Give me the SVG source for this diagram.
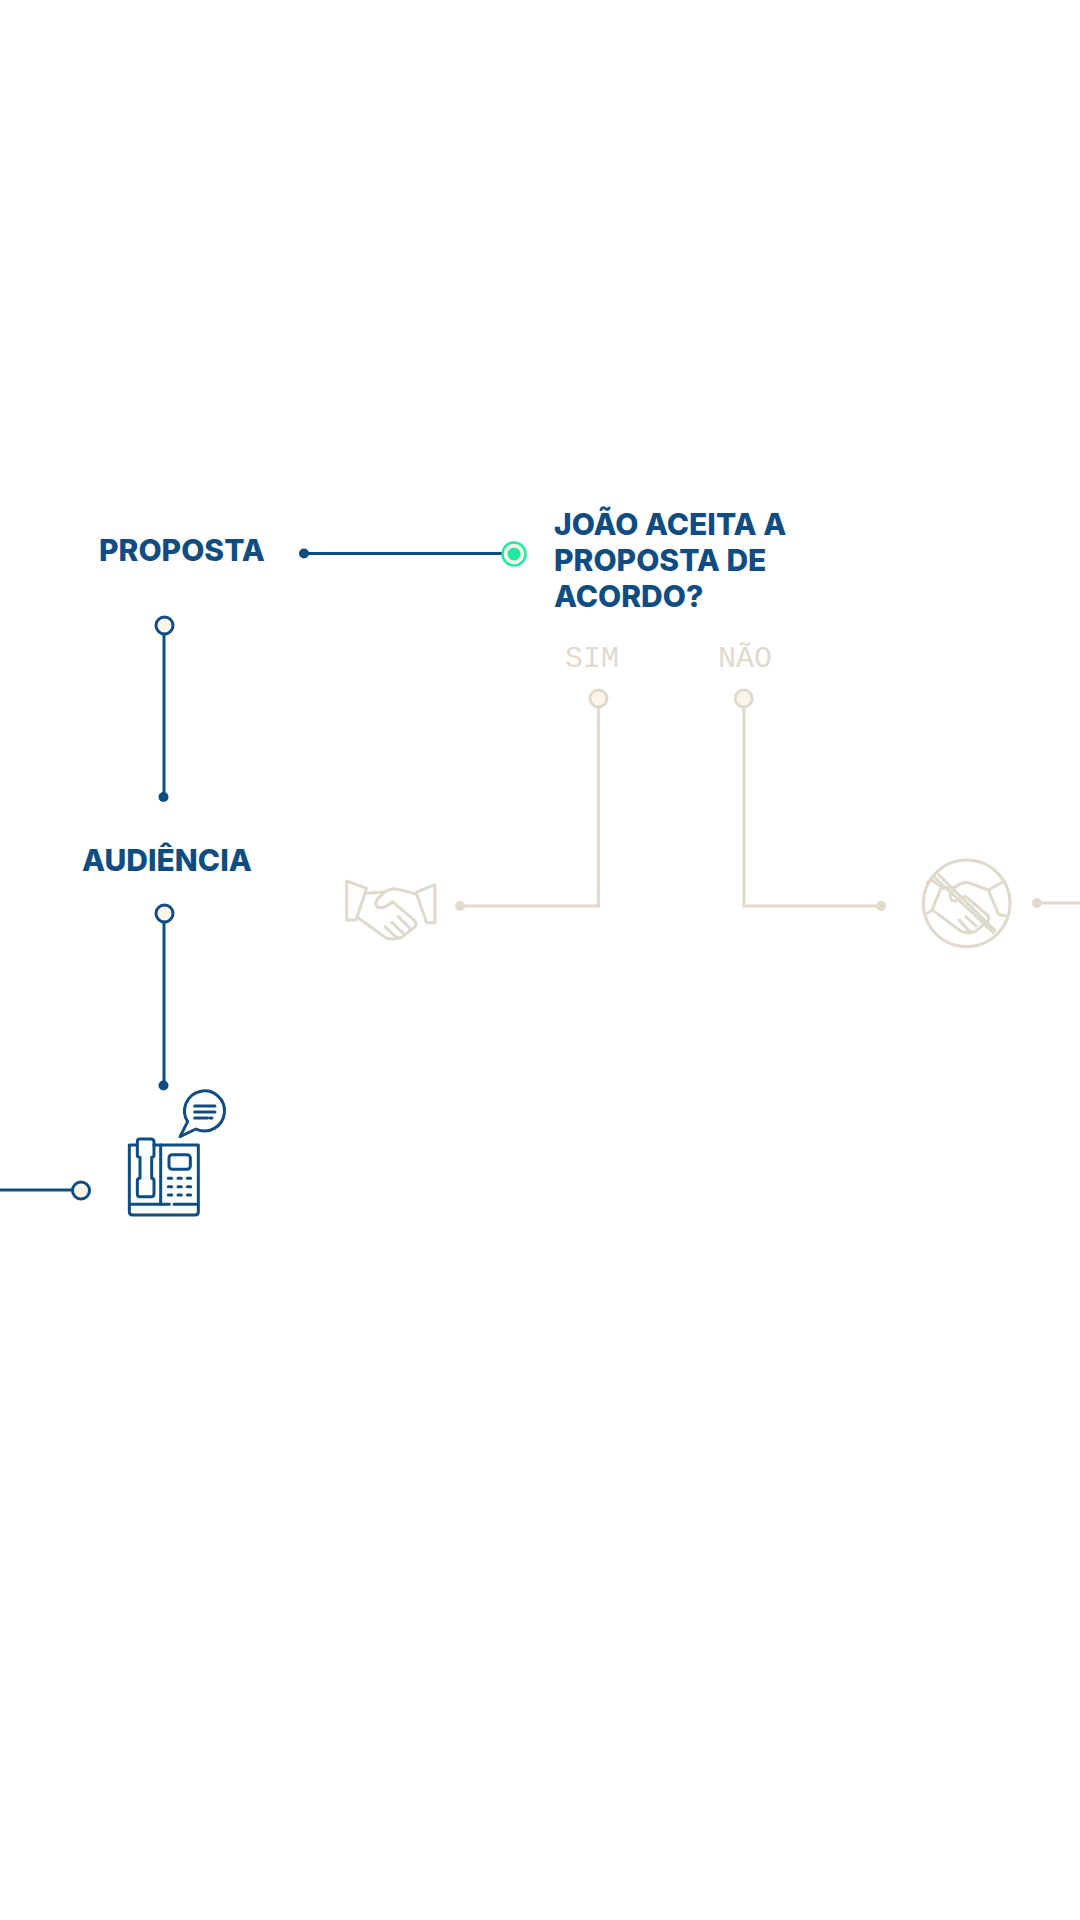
<svg xmlns="http://www.w3.org/2000/svg" width="1080" height="1920" viewBox="0 0 1080 1920">
<style>
.t{font-family:Inter,"Liberation Sans",sans-serif;font-weight:800;font-size:30px;fill:#0f4c81}
.m{font-family:"Liberation Mono",monospace;font-weight:400;font-size:30px;fill:#e0d9cd}
.bl{fill:none;stroke:#0f4c81;stroke-width:3}
.be{fill:none;stroke:#e0d9cd;stroke-width:3}
.dotb{fill:#0f4c81}
.dote{fill:#e0d9cd}
.ob{fill:#fdf5e8;stroke:#0f4c81;stroke-width:3}
.oe{fill:#fdf5e8;stroke:#e0d9cd;stroke-width:3}
.ib{fill:none;stroke:#0f4c81;stroke-width:9;stroke-linecap:round;stroke-linejoin:round}
.ie{fill:none;stroke:#e0d9cd;stroke-width:9;stroke-linecap:round;stroke-linejoin:round}
</style>
<rect width="1080" height="1920" fill="#fff"/>
<g id="connectors">
<path class="bl" d="M304 553.5H514"/>
<path class="bl" d="M164 625V797"/>
<path class="bl" d="M164 913V1085"/>
<path class="bl" d="M0 1190H81"/>
<path class="be" d="M598.5 698V906H460"/>
<path class="be" d="M744 698V906H881"/>
<path class="be" d="M1037 903H1080"/>
<circle class="dotb" cx="304" cy="553.5" r="5"/>
<circle class="dotb" cx="163.500" cy="797" r="5"/>
<circle class="dotb" cx="163.500" cy="1085.500" r="5"/>
<circle class="dote" cx="460" cy="906" r="5"/>
<circle class="dote" cx="881" cy="906" r="5"/>
<circle class="dote" cx="1037" cy="903" r="5"/>
</g>
<g id="proposta"><text class="t" x="99" y="561">PROPOSTA</text></g>
<g id="audiencia"><text class="t" x="82" y="871">AUDIÊNCIA</text></g>
<g id="pergunta">
<text class="t" x="554" y="535">JOÃO ACEITA A</text>
<text class="t" x="554" y="571">PROPOSTA DE</text>
<text class="t" x="554" y="607">ACORDO?</text>
</g>
<g id="sim"><text class="m" x="565" y="667">SIM</text></g>
<g id="nao"><text class="m" x="718" y="667">NÃO</text></g>
<g id="node-decisao">
<circle cx="514" cy="554" r="11.500" fill="#fdf5e8" stroke="#1de9a0" stroke-width="2.500"/>
<circle cx="514" cy="554" r="6.500" fill="#1de9a0"/>
</g>
<g id="node-a"><circle class="ob" cx="164.500" cy="625.500" r="8.500"/></g>
<g id="node-b"><circle class="ob" cx="164.500" cy="913.500" r="8.500"/></g>
<g id="node-c"><circle class="ob" cx="81" cy="1190.500" r="8.500"/></g>
<g id="node-sim"><circle class="oe" cx="598.500" cy="698.500" r="8.500"/></g>
<g id="node-nao"><circle class="oe" cx="743.700" cy="698.500" r="8.500"/></g>
<g id="aperto" transform="translate(330 860) scale(.3333)">
<path class="ie" d="M50 63L110 85L78 180H50Z"/>
<path class="ie" d="M315 74L258 97L290 188H315Z"/>
<path class="ie" d="M112 100L165 96"/>
<path class="ie" d="M258 102L205 88Q185 82 165 95L145 115Q128 135 148 143Q165 146 187 125L250 178Q268 195 245 208L215 232Q205 237 195 228L165 200"/>
<path class="ie" d="M82 172L165 232Q185 242 205 233"/>
<path class="ie" d="M185 187L222 222"/>
<path class="ie" d="M205 170L240 205"/>
</g>
<g id="sem-acordo" transform="translate(900 840) scale(.3333)">
<circle class="ie" cx="200" cy="190" r="130"/>
<path class="ie" d="M100 108L280 278M112 100L285 272"/>
<path class="ie" d="M78 222L95 212L125 140L95 120L82 128"/>
<path class="ie" d="M322 230L295 222L265 150L305 128"/>
<path class="ie" d="M125 145L165 142"/>
<path class="ie" d="M265 150L205 128Q185 126 165 142L150 165Q150 185 168 183L195 168L262 225Q275 240 250 255L225 275Q210 280 200 265L178 240"/>
<path class="ie" d="M100 212L175 268Q190 280 212 278"/>
<path class="ie" d="M198 230L228 258"/>
</g>
<g id="telefone" transform="translate(110 1070) scale(.3333)">
<path class="ib" d="M80 225H58V425Q58 435 68 435H255Q265 435 265 425V225H132"/>
<path class="ib" d="M152 225V403"/>
<path class="ib" d="M58 403H178M192 403H265"/>
<path class="ib" d="M88 207H123Q132 207 132 216V255Q132 262 125 262V325Q132 325 132 332V372Q132 380 123 380H90Q82 380 82 372V332Q82 325 90 325V262Q82 262 82 255V216Q82 207 88 207Z"/>
<rect class="ib" x="177" y="254" width="64" height="44" rx="10"/>
<path class="ib" d="M175 325H185M204 325H214M232 325H242M175 350H185M204 350H214M232 350H242M175 375H185M204 375H214M232 375H242"/>
<path class="ib" d="M210 200L233 155A60 60 0 1 1 258 177Z"/>
<path class="ib" d="M254 108H315M254 126H315M254 144H292M300 144H306"/>
</g>
</svg>
